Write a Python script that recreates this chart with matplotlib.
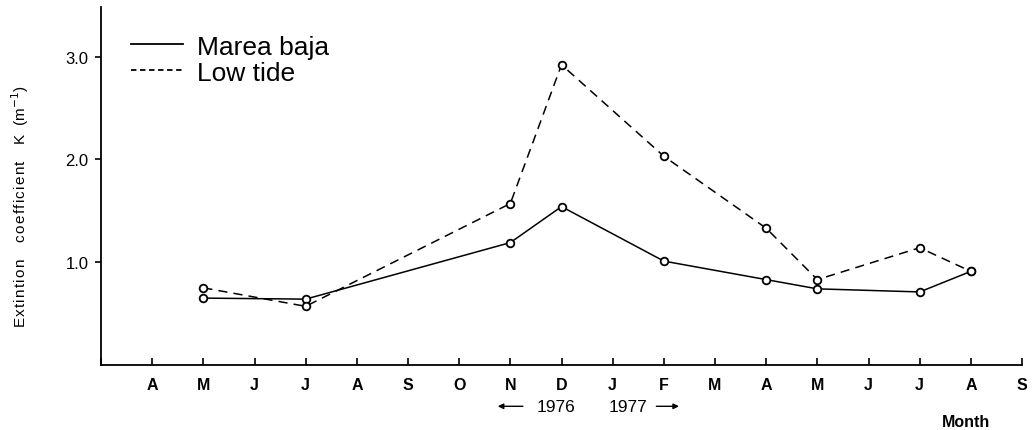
import matplotlib
matplotlib.use('Agg')
import matplotlib.pyplot as plt
from matplotlib.lines import Line2D
from matplotlib.transforms import blended_transform_factory

plt.rcParams['font.family'] = ['Liberation Sans', 'DejaVu Sans']

# months on the axis, Mar 1976 (at the spine) .. Sep 1977
month_labels = ['', 'A', 'M', 'J', 'J', 'A', 'S', 'O', 'N', 'D',
                'J', 'F', 'M', 'A', 'M', 'J', 'J', 'A', 'S']
month_pos = list(range(len(month_labels)))

# sampled months (index into month_labels)
sample_pos = [2, 4, 8, 9, 11, 13, 14, 16, 17]
marea_baja = [0.65, 0.64, 1.19, 1.54, 1.01, 0.83, 0.74, 0.71, 0.91]
low_tide = [0.75, 0.57, 1.57, 2.92, 2.03, 1.33, 0.83, 1.14, 0.91]

y_ticks = [1.0, 2.0, 3.0]


def spaced(s):
    # loose letter spacing like the original lettering
    return '\u200a'.join(s)


fig = plt.figure(figsize=(10.36, 4.31), dpi=100)
ax = fig.add_axes([0.0975, 0.151, 0.889, 0.830])

ax.plot(sample_pos, marea_baja, color='black', lw=1.1, marker='o',
        ms=5.5, mfc='white', mec='black', mew=1.3)
ax.plot(sample_pos, low_tide, color='black', lw=1.1, ls=(0, (6, 4)),
        marker='o', ms=5.5, mfc='white', mec='black', mew=1.3)

ax.set_xlim(0, 18)
ax.set_ylim(0, 3.48)
ax.spines['top'].set_visible(False)
ax.spines['right'].set_visible(False)
for s in ['left', 'bottom']:
    ax.spines[s].set_linewidth(1.3)

ax.set_xticks(month_pos)
ax.set_xticklabels(month_labels, fontsize=11.5, fontweight='bold')
ax.tick_params(axis='x', direction='in', length=5, width=1.2, pad=9)
ax.set_yticks(y_ticks)
ax.set_yticklabels(['1.0', '2.0', '3.0'], fontsize=12)
ax.tick_params(axis='y', direction='out', length=4, width=1.2, pad=5)

ylab = (spaced('Extintion') + '    ' + spaced('coefficient') + '    '
        + 'K  (m$^{-1}$)')
ax.set_ylabel(ylab, fontsize=11)
ax.yaxis.set_label_coords(-0.076, 0.445)

handles = [Line2D([], [], color='black', lw=1.3),
           Line2D([], [], color='black', lw=1.3, ls=(0, (3, 2)))]
ax.legend(handles, ['Marea baja', 'Low tide'], loc='upper left',
          bbox_to_anchor=(0.012, 0.975), frameon=False, fontsize=19,
          handlelength=2.0, handletextpad=0.5, labelspacing=0.08,
          borderpad=0.2)

# year markers under the axis
tr = blended_transform_factory(ax.transData, fig.transFigure)
ax.text(8.9, 0.055, '1976', transform=tr, ha='center', va='center',
        fontsize=12.5)
ax.text(10.3, 0.055, '1977', transform=tr, ha='center', va='center',
        fontsize=12.5)
ax.annotate('', xy=(7.7, 0.055), xytext=(8.3, 0.055), xycoords=tr,
            textcoords=tr, annotation_clip=False,
            arrowprops=dict(arrowstyle='-|>', color='black', lw=1,
                            mutation_scale=8))
ax.annotate('', xy=(11.35, 0.055), xytext=(10.8, 0.055), xycoords=tr,
            textcoords=tr, annotation_clip=False,
            arrowprops=dict(arrowstyle='-|>', color='black', lw=1,
                            mutation_scale=8))
ax.text(16.9, 0.02, 'Month', transform=tr, ha='center', va='center',
        fontsize=11.5, fontweight='bold')

fig.savefig('out.png', dpi=100)
